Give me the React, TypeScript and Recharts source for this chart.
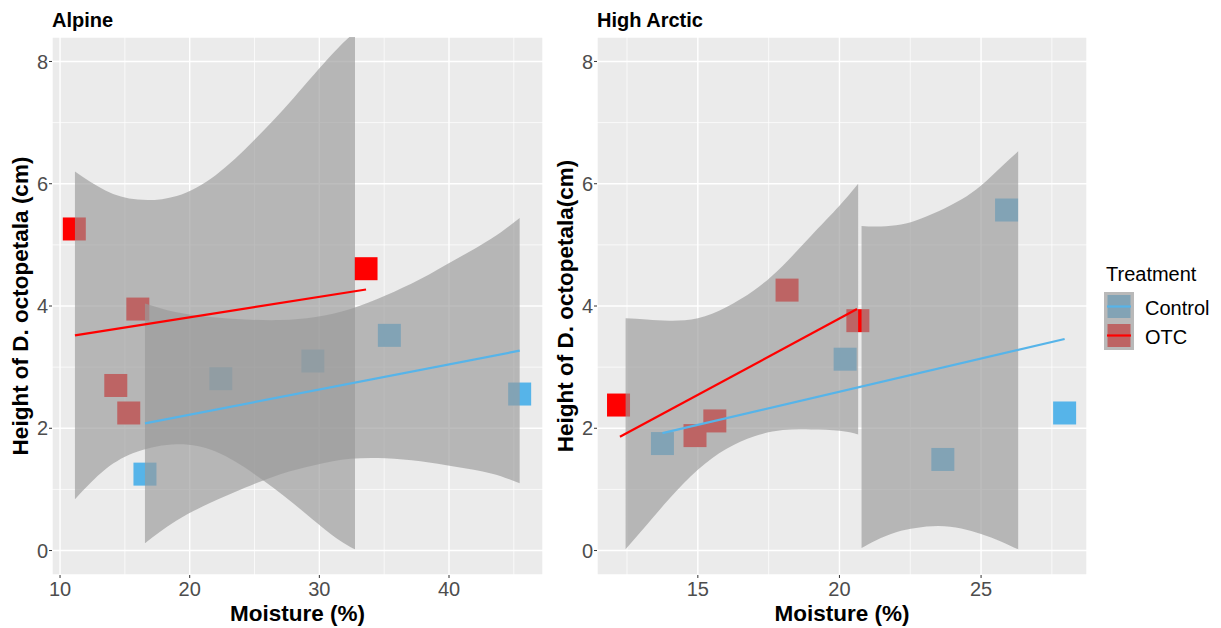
import {
  ComposedChart,
  Scatter,
  Area,
  Line,
  XAxis,
  YAxis,
  CartesianGrid,
  ReferenceLine,
} from "recharts";

// ---- Alpine ----
const alpineOtcX = [11.1, 14.3, 15.3, 16.0, 33.6];
const alpineOtcY = [5.26, 2.7, 2.25, 3.95, 4.61];
const alpineCtrlX = [16.55, 22.4, 29.5, 35.4, 45.45];
const alpineCtrlY = [1.25, 2.81, 3.1, 3.52, 2.56];

const alpineOtcFitX = [11.15, 33.6];
const alpineOtcFitY = [3.52, 4.27];
const alpineCtrlFitX = [16.55, 45.45];
const alpineCtrlFitY = [2.08, 3.27];

const alpineOtcBandX = [11.15, 13.5, 16, 19, 22, 25, 28, 31, 32.75];
const alpineOtcBandLow = [0.84, 1.33, 1.62, 1.74, 1.62, 1.25, 0.77, 0.25, 0.02];
const alpineOtcBandHigh = [6.2, 5.89, 5.74, 5.8, 6.14, 6.72, 7.4, 8.12, 8.48];
const alpineCtrlBandX = [16.55, 18.9, 21.6, 24.3, 27, 29.7, 32.4, 35.1, 37.8, 40.5, 43.25, 45.45];
const alpineCtrlBandLow = [0.12, 0.48, 0.78, 1.03, 1.25, 1.4, 1.5, 1.51, 1.46, 1.37, 1.26, 1.1];
const alpineCtrlBandHigh = [4.04, 3.9, 3.82, 3.78, 3.77, 3.82, 3.95, 4.17, 4.44, 4.76, 5.1, 5.44];

// ---- High Arctic ----
const arcticOtcX = [12.2, 14.9, 15.6, 18.15, 20.65];
const arcticOtcY = [2.38, 1.88, 2.12, 4.26, 3.76];
const arcticCtrlX = [13.75, 20.2, 23.65, 25.9, 27.95];
const arcticCtrlY = [1.75, 3.13, 1.49, 5.57, 2.25];

const arcticOtcFitX = [12.25, 20.62];
const arcticOtcFitY = [1.86, 3.95];
const arcticCtrlFitX = [13.75, 27.95];
const arcticCtrlFitY = [1.92, 3.46];

const arcticOtcBandX = [12.45, 13.2, 14, 15, 16, 17, 18, 19, 20, 20.66];
const arcticOtcBandLow = [0.02, 0.42, 0.85, 1.32, 1.66, 1.87, 1.97, 1.98, 1.96, 1.9];
const arcticOtcBandHigh = [3.8, 3.78, 3.76, 3.8, 3.98, 4.26, 4.66, 5.15, 5.64, 6.0];
const arcticCtrlBandX = [20.78, 21.3, 22, 22.7, 23.5, 24.3, 25.0, 25.7, 26.31];
const arcticCtrlBandLow = [0.04, 0.17, 0.3, 0.37, 0.4, 0.36, 0.27, 0.15, 0.02];
const arcticCtrlBandHigh = [5.31, 5.3, 5.32, 5.4, 5.55, 5.74, 5.97, 6.27, 6.53];

// axes
const alpineXTicks = [10, 20, 30, 40];
const alpineXMinor = [15, 25, 35, 45];
const arcticXTicks = [15, 20, 25];
const arcticXMinor = [12.5, 17.5, 22.5, 27.5];
const yTicks = [0, 2, 4, 6, 8];
const yMinor = [1, 3, 5, 7];
const yDomain: [number, number] = [-0.4, 8.4];

const RED = "#FF0000";
const BLUE = "#56B4E9";
const FONT = "'Liberation Sans', Arial, sans-serif";
const CHART_H = 628;
const MARGIN_TOP = 37;
const MARGIN_RIGHT = 17;
const Y_AXIS_W = 52;
const X_AXIS_H = 53;

function toPoints(xs: number[], ys: number[]) {
  return xs.map((x, i) => ({ x, y: ys[i] }));
}

function buildRows(
  otcBand: [number[], number[], number[]],
  ctrlBand: [number[], number[], number[]],
  otcFit: [number[], number[]],
  ctrlFit: [number[], number[]]
) {
  const map = new Map<number, any>();
  const get = (x: number) => {
    if (!map.has(x)) map.set(x, { x, otcBand: [null, null], ctrlBand: [null, null] });
    return map.get(x);
  };
  otcBand[0].forEach((x, i) => (get(x).otcBand = [otcBand[1][i], otcBand[2][i]]));
  ctrlBand[0].forEach((x, i) => (get(x).ctrlBand = [ctrlBand[1][i], ctrlBand[2][i]]));
  otcFit[0].forEach((x, i) => (get(x).otcFit = otcFit[1][i]));
  ctrlFit[0].forEach((x, i) => (get(x).ctrlFit = ctrlFit[1][i]));
  return Array.from(map.values()).sort((a, b) => a.x - b.x);
}

const alpineRows = buildRows(
  [alpineOtcBandX, alpineOtcBandLow, alpineOtcBandHigh],
  [alpineCtrlBandX, alpineCtrlBandLow, alpineCtrlBandHigh],
  [alpineOtcFitX, alpineOtcFitY],
  [alpineCtrlFitX, alpineCtrlFitY]
);
const arcticRows = buildRows(
  [arcticOtcBandX, arcticOtcBandLow, arcticOtcBandHigh],
  [arcticCtrlBandX, arcticCtrlBandLow, arcticCtrlBandHigh],
  [arcticOtcFitX, arcticOtcFitY],
  [arcticCtrlFitX, arcticCtrlFitY]
);

const squareShape = (color: string) => (props: any) => (
  <rect x={props.cx - 11.5} y={props.cy - 11.5} width={23} height={23} fill={color} />
);

interface PanelProps {
  left: number;
  width: number;
  xDomain: [number, number];
  xTicks: number[];
  xMinor: number[];
  rows: any[];
  otcPts: { x: number; y: number }[];
  ctrlPts: { x: number; y: number }[];
}

// hidden axes for the overlay layers, same plot area as the base layer
function hiddenAxes(xDomain: [number, number]) {
  return [
    <XAxis key="hx" type="number" dataKey="x" domain={xDomain} allowDataOverflow hide />,
    <YAxis key="hy" type="number" domain={yDomain} allowDataOverflow hide />,
  ];
}

const layerStyle: React.CSSProperties = { position: "absolute", left: 0, top: 0 };
const overlayMargin = {
  top: MARGIN_TOP,
  right: MARGIN_RIGHT,
  bottom: X_AXIS_H,
  left: Y_AXIS_W,
};

function Panel({ left, width, xDomain, xTicks, xMinor, rows, otcPts, ctrlPts }: PanelProps) {
  const tickStyle = { fill: "#4D4D4D", fontSize: 20, fontFamily: FONT };
  return (
    <div style={{ position: "absolute", left, top: 0, width, height: CHART_H }}>
      {/* background, grid, axes */}
      <div style={layerStyle}>
        <ComposedChart
          width={width}
          height={CHART_H}
          data={rows}
          margin={{ top: MARGIN_TOP, right: MARGIN_RIGHT, bottom: 0, left: 0 }}
        >
          <CartesianGrid fill="#EBEBEB" fillOpacity={1} stroke="#FFFFFF" strokeWidth={1.4} />
          {xMinor.map((v) => (
            <ReferenceLine key={"mx" + v} x={v} stroke="#FFFFFF" strokeWidth={0.7} />
          ))}
          {yMinor.map((v) => (
            <ReferenceLine key={"my" + v} y={v} stroke="#FFFFFF" strokeWidth={0.7} />
          ))}
          <XAxis
            type="number"
            dataKey="x"
            domain={xDomain}
            ticks={xTicks}
            interval={0}
            allowDataOverflow
            axisLine={false}
            tickLine={{ stroke: "#333333" }}
            tickSize={3}
            tickMargin={4}
            height={X_AXIS_H}
            tick={tickStyle}
          />
          <YAxis
            type="number"
            domain={yDomain}
            ticks={yTicks}
            interval={0}
            allowDataOverflow
            axisLine={false}
            tickLine={{ stroke: "#333333" }}
            tickSize={3}
            tickMargin={1}
            width={Y_AXIS_W}
            tick={tickStyle}
          />
        </ComposedChart>
      </div>
      {/* points */}
      <div style={layerStyle}>
        <ComposedChart width={width} height={CHART_H} margin={overlayMargin}>
          {hiddenAxes(xDomain)}
          <Scatter data={ctrlPts} dataKey="y" shape={squareShape(BLUE)} isAnimationActive={false} />
          <Scatter data={otcPts} dataKey="y" shape={squareShape(RED)} isAnimationActive={false} />
        </ComposedChart>
      </div>
      {/* confidence bands and fitted lines */}
      <div style={layerStyle}>
        <ComposedChart width={width} height={CHART_H} data={rows} margin={overlayMargin}>
          {hiddenAxes(xDomain)}
          <Area
            dataKey="ctrlBand"
            type="natural"
            fill="#999999"
            fillOpacity={0.65}
            stroke="none"
            connectNulls
            dot={false}
            activeDot={false}
            isAnimationActive={false}
          />
          <Area
            dataKey="otcBand"
            type="natural"
            fill="#999999"
            fillOpacity={0.65}
            stroke="none"
            connectNulls
            dot={false}
            activeDot={false}
            isAnimationActive={false}
          />
          <Line
            dataKey="ctrlFit"
            type="linear"
            stroke={BLUE}
            strokeWidth={2.2}
            dot={false}
            activeDot={false}
            connectNulls
            isAnimationActive={false}
          />
          <Line
            dataKey="otcFit"
            type="linear"
            stroke={RED}
            strokeWidth={2.2}
            dot={false}
            activeDot={false}
            connectNulls
            isAnimationActive={false}
          />
        </ComposedChart>
      </div>
    </div>
  );
}

function LegendKey({ y, color }: { y: number; color: string }) {
  return (
    <g>
      <rect x={1104} y={y} width={30} height={29} fill="#F2F2F2" />
      <rect x={1107.5} y={y + 3} width={23} height={23} fill={color} />
      <rect x={1104} y={y} width={30} height={29} fill="#999999" fillOpacity={0.65} />
      <line x1={1107} x2={1131} y1={y + 14.5} y2={y + 14.5} stroke={color} strokeWidth={2.2} />
    </g>
  );
}

export default function App() {
  return (
    <div
      style={{
        position: "relative",
        width: 1221,
        height: 628,
        background: "#FFFFFF",
        fontFamily: FONT,
        overflow: "hidden",
      }}
    >
      <style>{"body{margin:0}"}</style>
      <Panel
        left={0}
        width={560}
        xDomain={[9.38, 47.25]}
        xTicks={alpineXTicks}
        xMinor={alpineXMinor}
        rows={alpineRows}
        otcPts={toPoints(alpineOtcX, alpineOtcY)}
        ctrlPts={toPoints(alpineCtrlX, alpineCtrlY)}
      />
      <Panel
        left={545}
        width={559}
        xDomain={[11.44, 28.74]}
        xTicks={arcticXTicks}
        xMinor={arcticXMinor}
        rows={arcticRows}
        otcPts={toPoints(arcticOtcX, arcticOtcY)}
        ctrlPts={toPoints(arcticCtrlX, arcticCtrlY)}
      />
      <svg
        width={1221}
        height={628}
        style={{ position: "absolute", left: 0, top: 0, pointerEvents: "none" }}
        fontFamily={FONT}
      >
        <text x={52} y={27} fontSize={20} fontWeight="bold" fill="#000">
          Alpine
        </text>
        <text x={597} y={27} fontSize={20} fontWeight="bold" fill="#000">
          High Arctic
        </text>
        <text x={297.5} y={621} fontSize={22.5} fontWeight="bold" textAnchor="middle" fill="#000">
          Moisture (%)
        </text>
        <text x={842} y={621} fontSize={22.5} fontWeight="bold" textAnchor="middle" fill="#000">
          Moisture (%)
        </text>
        <text
          x={28}
          y={306}
          fontSize={22.5}
          fontWeight="bold"
          textAnchor="middle"
          fill="#000"
          transform="rotate(-90 28 306)"
        >
          Height of D. octopetala (cm)
        </text>
        <text
          x={573}
          y={306}
          fontSize={22.5}
          fontWeight="bold"
          textAnchor="middle"
          fill="#000"
          transform="rotate(-90 573 306)"
        >
          Height of D. octopetala(cm)
        </text>
        <text x={1106} y={281} fontSize={20} fill="#000">
          Treatment
        </text>
        <LegendKey y={292} color={BLUE} />
        <LegendKey y={321} color={RED} />
        <text x={1145} y={315} fontSize={20} fill="#000">
          Control
        </text>
        <text x={1145} y={344} fontSize={20} fill="#000">
          OTC
        </text>
      </svg>
    </div>
  );
}
